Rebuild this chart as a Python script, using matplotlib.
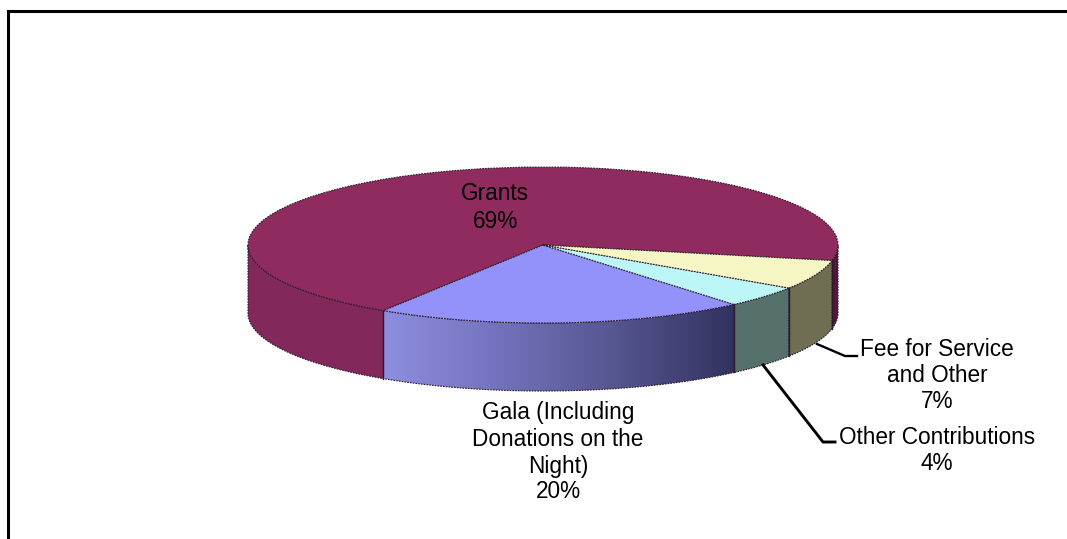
import numpy as np
import matplotlib
matplotlib.use('Agg')
import matplotlib.pyplot as plt
from matplotlib.colors import LinearSegmentedColormap
from matplotlib.patches import Polygon

plt.rcParams['font.family'] = ['Liberation Sans', 'DejaVu Sans']

# slices (printed labels are rounded)
names = ['Grants', 'Gala', 'Other Contributions', 'Fee for Service']
values = [69.1, 20.3, 4.49, 6.11]
top_colors = ['#902B5F', '#9292FA', '#BCF6F6', '#F6F6C4']
wall_colors = ['#82285A', None, '#56706C', '#706E52']
start_angle = -11.5

W, H = 1067, 539
CX, CY, RX, RY = 543, 245, 295, 78
DEPTH = 68 / RY
EDGE = '#2a1a2a'
DOTTED = (0, (1.5, 1))

fig = plt.figure(figsize=(W / 100, H / 100), dpi=100)

ax = fig.add_axes([0, 0, 1, 1])
wedges, _ = ax.pie(values, colors=top_colors, startangle=start_angle, radius=1,
                   wedgeprops={'edgecolor': EDGE, 'linewidth': 0.8, 'linestyle': DOTTED, 'zorder': 5})
ax.set_aspect('auto')
ax.axis('off')


def wall_outline(a0, a1):
    t = np.radians(np.linspace(a0, a1, 120))
    x, y = np.cos(t), np.sin(t)
    return np.r_[x, x[::-1]], np.r_[y, (y - DEPTH)[::-1]]


def draw_wall(a0, a1, color):
    xs, ys = wall_outline(a0, a1)
    ax.fill(xs, ys, facecolor=color, edgecolor=EDGE, linewidth=0.8, linestyle=DOTTED, zorder=2)


# side walls of the front half
edges = start_angle + np.cumsum([0] + values) * 3.6
draw_wall(180, edges[1], wall_colors[0])
draw_wall(edges[4], 360, '#54163C')
draw_wall(edges[2], edges[3], wall_colors[2])
draw_wall(edges[3], edges[4], wall_colors[3])

# the gala wall runs from light to dark, left to right
gala_cmap = LinearSegmentedColormap.from_list('gala', ['#8E8EE0', '#7272BC', '#55558F', '#323260'])
xs, ys = wall_outline(edges[1], edges[2])
grad = ax.imshow(np.linspace(0, 1, 256)[None, :], cmap=gala_cmap, aspect='auto', zorder=2,
                 extent=(xs.min(), xs.max(), ys.min(), ys.max()))
outline = Polygon(np.c_[xs, ys], closed=True, facecolor='none', edgecolor=EDGE, linewidth=0.8,
                  linestyle=DOTTED, transform=ax.transData, zorder=3)
ax.add_patch(outline)
grad.set_clip_path(outline)

# solid dark lines where the walls meet
for a in edges[1:5]:
    t = np.radians(a)
    ax.plot([np.cos(t)] * 2, [np.sin(t), np.sin(t) - DEPTH], color=EDGE, lw=1.0, zorder=4)

ax.set_xlim(-CX / RX, (W - CX) / RX)
ax.set_ylim((CY - H) / RY, CY / RY)

# overlay in pixel coordinates for border, leaders and labels
ov = fig.add_axes([0, 0, 1, 1])
ov.set_xlim(0, W)
ov.set_ylim(H, 0)
ov.axis('off')
ov.patch.set_alpha(0)

ov.plot([W, 8, 8], [10.5, 10.5, H], color='black', lw=2.2, solid_joinstyle='miter')
ov.plot([817, 845, 857], [344, 356, 356], color='black', lw=1.7)
ov.plot([763, 823, 835], [365, 442, 442], color='black', lw=2.1)

labels = [
    (495, [(194, 'Grants'), (221, '69%')]),
    (558, [(413, 'Gala (Including'), (440, 'Donations on the'), (466, 'Night)'), (492, '20%')]),
    (937, [(350, 'Fee for Service'), (376, 'and Other'), (402, '7%')]),
    (937, [(437, 'Other Contributions'), (463, '4%')]),
]
for x, lines in labels:
    for y, s in lines:
        ov.text(x, y, s, ha='center', va='center', fontsize=16.3, color='black')

fig.savefig('out.png', dpi=100, facecolor='white')
